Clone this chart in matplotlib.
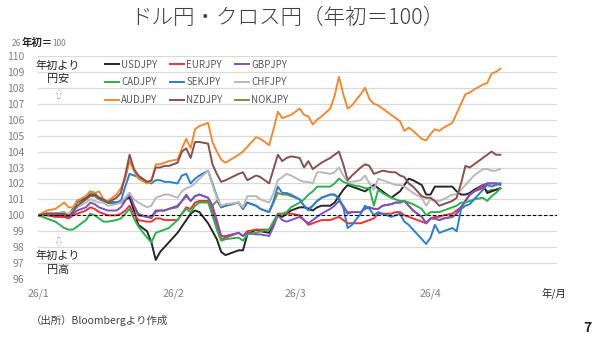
import matplotlib
matplotlib.use("Agg")
import matplotlib.pyplot as plt
import numpy as np
import datetime as dt

plt.rcParams['font.family'] = ['Noto Sans CJK JP', 'DejaVu Sans']

# ---- data ----
day_offsets = [0, 2, 4, 6, 7, 8, 9, 11, 12, 13, 14, 15, 16, 18, 19, 20, 21, 22, 23, 25,
               26, 27, 28, 29, 30, 32, 33, 34, 35, 36, 37, 39, 40, 41, 42, 43, 46, 47, 48, 50,
               51, 53, 54, 55, 56, 57, 58, 60, 61, 62, 63, 64, 65, 67, 68, 69, 70, 71, 72, 74,
               75, 76, 77, 78, 79, 81, 82, 83, 84, 85, 86, 88, 89, 90, 91, 92, 93, 95, 96, 97,
               98, 99, 100, 102, 103, 104, 105, 106]

usdjpy = [100, 100.1, 100.0, 99.9, 99.9, 100.4, 100.9, 101.1, 101.3, 101.3, 101.1, 101.0, 100.8, 100.8, 100.8, 101.0, 101.1, 100.3, 99.4, 99.0,
          98.3, 97.2, 97.7, 98.0, 98.3, 98.9, 99.3, 99.7, 100.1, 100.3, 100.2, 99.5, 99.0, 98.5, 97.7, 97.5, 97.8, 97.8, 98.8, 99.1,
          99.0, 98.9, 99.5, 100.0, 99.9, 100.1, 100.3, 100.5, 100.5, 100.4, 100.3, 100.5, 100.6, 100.6, 100.8, 101.2, 101.6, 101.9, 101.8, 101.6,
          101.5, 101.7, 101.9, 101.7, 101.5, 101.1, 101.3, 101.5, 101.9, 102.3, 102.2, 101.9, 101.3, 101.3, 101.8, 101.8, 101.8, 101.8, 101.5, 101.3,
          101.3, 101.4, 101.6, 101.9, 101.4, 101.5, 101.6, 101.7]

eurjpy = [100, 100.0, 99.9, 99.9, 99.8, 100.0, 100.1, 100.3, 100.5, 100.4, 100.2, 100.1, 100.0, 100.0, 100.1, 100.3, 100.6, 100.1, 99.7, 99.6,
          99.6, 99.8, 99.8, 99.7, 99.7, 99.7, 100.1, 100.5, 100.4, 100.8, 100.9, 100.9, 100.3, 99.4, 98.5, 98.6, 98.9, 98.7, 99.0, 99.1,
          99.1, 99.1, 99.6, 100.1, 100.1, 100.1, 100.1, 100.0, 99.7, 99.4, 99.5, 99.6, 99.7, 99.7, 99.8, 99.9, 99.7, 99.5, 99.5, 99.5,
          99.6, 99.7, 99.8, 100.1, 100.1, 100.1, 100.2, 100.2, 100.0, 99.9, 99.8, 99.6, 99.5, 99.8, 99.9, 99.9, 100.0, 100.1, 100.3, 100.5,
          100.9, 101.3, 101.5, 101.7, 102.0, 102.0, 102.0, 102.0]

gbpjpy = [100, 100.1, 100.1, 100.1, 99.9, 100.1, 100.3, 100.5, 100.8, 100.7, 100.5, 100.4, 100.3, 100.3, 100.5, 100.9, 101.4, 100.6, 100.0, 99.9,
          99.9, 100.3, 100.3, 100.3, 100.4, 100.6, 100.9, 101.3, 100.9, 101.2, 101.3, 101.1, 100.6, 99.7, 98.7, 98.7, 98.9, 98.7, 98.9, 98.8,
          98.8, 98.7, 99.3, 100.0, 99.7, 99.6, 99.7, 99.9, 99.7, 99.5, 99.7, 99.9, 100.1, 100.4, 100.6, 100.9, 100.6, 100.1, 100.2, 100.2,
          100.4, 100.5, 100.4, 100.4, 100.6, 100.7, 100.8, 100.8, 100.9, 100.6, 100.3, 99.9, 99.5, 99.8, 99.8, 99.7, 99.8, 99.9, 100.1, 100.5,
          100.9, 101.3, 101.5, 101.9, 102.0, 102.0, 102.0, 101.9]

cadjpy = [100, 99.8, 99.6, 99.2, 99.1, 99.1, 99.3, 99.7, 100.1, 100.0, 99.8, 99.6, 99.6, 99.7, 99.8, 100.1, 100.4, 99.8, 99.3, 98.6,
          98.3, 98.9, 99.0, 99.1, 99.2, 99.7, 100.1, 100.4, 100.2, 100.6, 100.8, 100.8, 100.0, 99.1, 98.4, 98.5, 98.6, 98.4, 98.8, 98.9,
          99.0, 99.1, 99.6, 100.0, 100.1, 100.2, 100.5, 100.8, 101.0, 101.3, 101.5, 101.8, 101.8, 101.8, 102.0, 102.3, 102.1, 102.0, 101.9, 101.8,
          101.7, 101.7, 100.6, 101.6, 101.4, 101.1, 101.0, 100.9, 100.9, 100.8, 100.7, 100.4, 100.0, 100.2, 100.2, 100.2, 100.3, 100.5, 100.6, 100.8,
          100.8, 100.9, 101.0, 101.1, 100.9, 101.2, 101.4, 101.7]

sekjpy = [100, 100.1, 100.1, 100.2, 100.0, 100.4, 100.9, 101.2, 101.5, 101.4, 101.1, 100.9, 100.8, 100.8, 100.9, 101.8, 102.6, 102.5, 102.4, 102.1,
          102.0, 102.2, 102.2, 102.1, 102.1, 102.0, 102.5, 102.6, 102.0, 102.3, 102.5, 102.8, 102.0, 101.2, 100.5, 100.6, 100.8, 100.4, 100.8, 100.6,
          100.4, 100.2, 100.9, 101.8, 101.4, 101.4, 101.3, 101.0, 100.6, 100.3, 100.6, 100.9, 101.1, 101.3, 101.3, 101.0, 100.5, 99.2, 99.4, 100.1,
          100.6, 100.4, 100.0, 100.2, 100.1, 99.9, 100.0, 100.1, 99.6, 99.4, 99.1, 98.5, 98.2, 98.6, 99.4, 98.9, 99.0, 99.2, 99.0, 100.4,
          100.6, 100.7, 101.0, 101.6, 101.9, 101.8, 101.9, 102.0]

chfjpy = [100, 100.1, 100.1, 100.2, 100.1, 100.3, 100.5, 100.8, 101.0, 100.9, 100.8, 100.8, 100.6, 100.7, 100.8, 101.1, 101.4, 101.0, 100.8, 100.5,
          100.6, 101.1, 101.2, 101.3, 101.3, 101.1, 101.5, 101.7, 101.8, 102.0, 102.3, 102.8, 101.9, 101.1, 100.6, 100.7, 100.8, 100.5, 101.2, 101.2,
          101.0, 100.8, 101.4, 102.2, 102.4, 102.6, 102.5, 102.2, 102.1, 102.1, 102.0, 102.7, 102.7, 102.6, 102.7, 103.0, 102.5, 102.1, 102.1, 102.2,
          102.5, 102.0, 101.6, 102.3, 102.2, 102.0, 101.9, 101.9, 101.8, 101.6, 101.4, 101.1, 100.6, 101.0, 100.9, 100.9, 101.0, 101.3, 101.3, 101.6,
          101.9, 102.2, 102.5, 102.9, 102.9, 102.8, 102.8, 102.9]

audjpy = [100, 100.3, 100.4, 100.8, 100.5, 100.5, 100.9, 101.2, 101.5, 101.4, 101.5, 101.0, 100.9, 101.3, 101.7, 102.3, 103.4, 102.8, 102.3, 102.0,
          102.1, 103.2, 103.2, 103.3, 103.4, 103.5, 104.2, 104.8, 104.2, 105.4, 105.6, 105.8, 104.6, 104.0, 103.5, 103.3, 103.8, 104.0, 104.3, 104.9,
          104.8, 104.4, 105.4, 106.5, 106.1, 106.2, 106.3, 106.7, 106.3, 106.2, 105.7, 106.0, 106.2, 106.7, 107.5, 108.7, 107.6, 106.7, 106.9, 107.6,
          108.0, 107.3, 107.0, 106.9, 106.7, 106.3, 106.1, 105.9, 105.3, 105.5, 105.3, 104.8, 104.7, 105.1, 105.4, 105.3, 105.5, 105.8, 106.4, 107.0,
          107.6, 107.7, 107.9, 108.2, 108.3, 108.9, 109.0, 109.2]

nzdjpy = [100, 100.1, 100.1, 100.1, 99.9, 100.2, 100.6, 101.0, 101.3, 101.3, 101.1, 101.0, 100.8, 101.1, 101.4, 102.5, 103.8, 102.9, 102.5, 102.1,
          102.2, 103.0, 103.0, 103.1, 103.1, 103.3, 104.0, 104.2, 103.6, 104.6, 104.6, 104.5, 103.2, 102.6, 102.1, 102.2, 102.6, 102.7, 102.2, 102.5,
          102.4, 102.0, 102.9, 103.8, 103.4, 103.6, 103.7, 103.6, 103.0, 103.4, 102.9, 103.1, 103.3, 103.6, 103.8, 104.0, 103.2, 102.2, 102.5, 103.0,
          103.2, 103.1, 102.6, 102.7, 102.8, 102.7, 102.7, 102.5, 102.4, 102.0, 101.8, 101.2, 101.1, 101.1, 100.9, 100.6, 100.7, 100.9, 101.1, 102.0,
          103.1, 103.0, 103.2, 103.6, 103.8, 104.0, 103.8, 103.8]

nokjpy = [100, 100.1, 100.0, 100.0, 99.9, 100.3, 100.8, 101.0, 101.2, 101.2, 101.0, 100.9, 100.8, 100.8, 100.9, 101.0, 101.2, 100.6, 100.1, 99.9,
          99.8, 100.2, 100.3, 100.3, 100.4, 100.5, 100.9, 101.2, 100.9, 101.2, 101.3, 101.1, 100.6, 100.9, 100.5, 100.6, 100.8, 100.4, 100.8, 100.6,
          100.4, 100.2, 100.8, 101.4, 101.3, 101.3, 101.2, 101.0, 100.6, 100.4, 100.6, 100.9, 101.1, 101.3, 101.3, 101.1, 100.5, 100.2, 100.2, 100.2,
          100.5, 100.5, 100.4, 100.4, 100.6, 100.7, 100.8, 100.8, 100.9, 100.6, 100.3, 99.9, 99.5, 99.8, 99.8, 99.7, 99.8, 99.9, 100.1, 100.5,
          100.9, 101.3, 101.5, 101.8, 101.5, 101.6, 101.6, 101.7]

series_names = ["USDJPY", "EURJPY", "GBPJPY", "CADJPY", "SEKJPY", "CHFJPY", "AUDJPY", "NZDJPY", "NOKJPY"]
series_values = [usdjpy, eurjpy, gbpjpy, cadjpy, sekjpy, chfjpy, audjpy, nzdjpy, nokjpy]
series_colors = ["#262626", "#e8333a", "#7f50c0", "#2eb04f", "#2e7fc8", "#b9b9b9", "#ed8b34", "#86504f", "#7b8c4f"]

month_ticks = ["2026-01-01", "2026-02-01", "2026-03-01", "2026-04-01"]
month_labels = ["26/1", "26/2", "26/3", "26/4"]
y_ticks = list(range(96, 111))

# ---- figure ----
base = dt.date(2026, 1, 1)
dates = [base + dt.timedelta(days=d) for d in day_offsets]

fig = plt.figure(figsize=(6.0, 3.43), dpi=100)
ax = fig.add_axes([38/600, 1-279/343, (557-38)/600, (279-56)/343])

z_order = {"NOKJPY": 1}
handles = {}
for name, vals, col in zip(series_names, series_values, series_colors):
    ln, = ax.plot(dates, vals, color=col, lw=1.4, label=name, zorder=z_order.get(name, 3),
                  solid_joinstyle='round')
    handles[name] = ln

ax.axhline(100, color="#000000", lw=0.8, ls=(0, (3, 2)), zorder=4)

ax.set_ylim(96, 110)
ax.set_yticks(y_ticks)
ax.set_xlim(dt.date(2026, 1, 1), dt.date(2026, 4, 30))
ax.set_xticks([dt.date.fromisoformat(s) for s in month_ticks])
ax.set_xticklabels(month_labels)
ax.grid(axis='y', color="#d9d9d9", lw=0.8, zorder=0)
ax.set_axisbelow(True)
for s in ax.spines.values():
    s.set_visible(False)
ax.tick_params(axis='both', length=0, labelsize=7.5, labelcolor="#808080")
ax.tick_params(axis='y', pad=10)
ax.tick_params(axis='x', pad=7)

# legend filled row-wise like the reference (matplotlib fills column-wise)
ncol = 3
nrow = 3
order = [series_names[r * ncol + c] for c in range(ncol) for r in range(nrow)]
leg = ax.legend([handles[n] for n in order], order, loc='upper left',
                bbox_to_anchor=(0.112, 1.022), ncol=ncol, frameon=False,
                fontsize=7, handlelength=1.5, handletextpad=0.2, columnspacing=1.25,
                labelspacing=0.78)
for t in leg.get_texts():
    t.set_color("#595959")

fig.text(287/600, 1-18/343, "ドル円・クロス円（年初＝100）", ha='center', va='center',
         fontsize=15.5, color="#404040", fontweight='light')

# unit label: "26" gray, "年初＝" dark, "100" gray, chained left to right
t1 = fig.text(12/600, 1-48/343, "26", ha='left', va='bottom', fontsize=6, color="#808080")
t2 = ax.annotate("年初＝", xy=(1, 0), xycoords=t1, ha='left', va='bottom',
                 fontsize=7.5, color="#262626", fontweight='bold')
t3 = ax.annotate("100", xy=(1, 0), xycoords=t2, ha='left', va='bottom',
                 fontsize=6, color="#808080")

fig.text(58/600, 1-66/343, "年初より", ha='center', va='center', fontsize=8, color="#262626")
fig.text(58/600, 1-79/343, "円安", ha='center', va='center', fontsize=8, color="#262626")
fig.text(58/600, 1-95/343, "⇧", ha='center', va='center', fontsize=7, color="#a0a0a0")
fig.text(58/600, 1-242/343, "⇩", ha='center', va='center', fontsize=7, color="#a0a0a0")
fig.text(58/600, 1-256/343, "年初より", ha='center', va='center', fontsize=8, color="#262626")
fig.text(58/600, 1-270/343, "円高", ha='center', va='center', fontsize=8, color="#262626")
fig.text(554/600, 1-293/343, "年/月", ha='center', va='center', fontsize=7.5, color="#262626")
fig.text(31/600, 1-320/343, "（出所）Bloombergより作成", ha='left', va='center', fontsize=7.5, color="#404040")
fig.text(587/600, 1-328/343, "7", ha='center', va='center', fontsize=10, fontweight='bold', color="#262626")

fig.savefig("out.png", dpi=100)
